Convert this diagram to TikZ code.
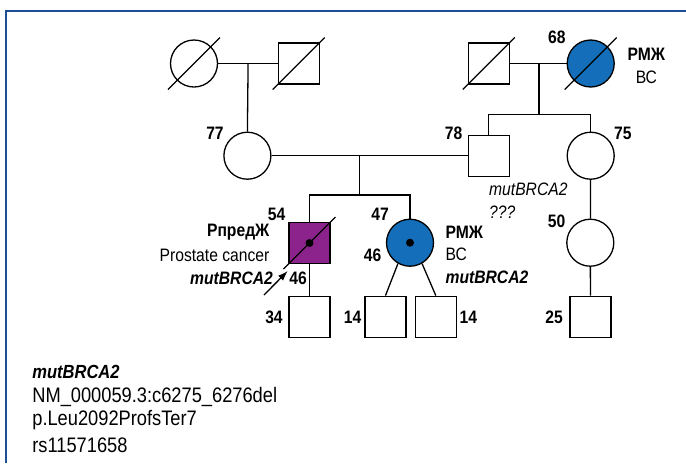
\documentclass[tikz,border=0pt]{standalone}
\usepackage{fontspec}
\setmainfont[FakeStretch=0.87]{Liberation Sans}
\usepackage{xcolor}
\usepackage{tikz}
\usetikzlibrary{shapes.geometric, arrows.meta, positioning, calc}
\definecolor{framecolor}{RGB}{28, 78, 150}
\definecolor{rmjblue}{RGB}{20, 110, 185}
\definecolor{prostpurple}{RGB}{140, 35, 140}
\newcommand{\deceased}[1]{\draw (#1.center) ++(-26,26) -- ++(52,-52);}

\begin{document}
\begin{tikzpicture}[x=0.5pt, y=-0.5pt, line width=0.65pt,
    female/.style={circle, draw, minimum size=23.5pt, inner sep=0pt},
    male/.style={rectangle, draw, minimum size=20.5pt, inner sep=0pt},
    age/.style={font=\fontsize{9}{10}\selectfont\bfseries},
    note/.style={inner sep=0pt, font=\fontsize{9}{10}\selectfont},
    proband/.style={fill=black, circle, inner sep=0pt, minimum size=4pt}]
    \useasboundingbox (0,0) rectangle (686,463);
    % frame
    \draw[framecolor, line width=1.25pt] (6,463) -- (6,11) -- (686,11);

    % generation I
    \node[female] (gmL) at (194,63.5) {};
    \node[male] (gfL) at (298.7,63.5) {};
    \node[male] (gfR) at (488.8,63.5) {};
    \node[female, fill=rmjblue] (gmR) at (590.7,63.5) {};
    \deceased{gmL} \deceased{gfL} \deceased{gfR} \deceased{gmR}
    \node[age] (ageGmR) at (556.8,37) {68};
    \node[note, font=\fontsize{9}{10}\selectfont\bfseries] (dxGmR) at (646.4,54) {РМЖ};
    \node[note] (bcGmR) at (646.4,77) {ВС};
    \draw (gmL) -- (gfL);
    \draw (gfR) -- (gmR);

    % generation II
    \node[female] (mother) at (247.4,155.7) {};
    \node[male] (father) at (488.8,155.7) {};
    \node[female] (aunt) at (590.7,155.7) {};
    \node[age] (ageMother) at (215,133.2) {77};
    \node[age] (ageFather) at (453.6,133.2) {78};
    \node[age] (ageAunt) at (622.8,133.2) {75};
    \node[note, anchor=west, font=\fontsize{9}{10}\selectfont\itshape] (mutFather) at (488.5,189.6) {mutBRCA2};
    \node[note, anchor=west, font=\fontsize{9}{10}\selectfont\itshape] (qFather) at (488.5,212) {???};
    \coordinate (jL) at (248.1,63.5);
    \coordinate (jR) at (539,63.5);
    \coordinate (sibR) at (539,114.5);
    \draw (jL) -- (mother.north);
    \draw (jR) -- (sibR);
    \draw (father.north) |- (sibR) -| (aunt.north);
    \draw (mother) -- (father);

    % generation III
    \node[male, fill=prostpurple] (son) at (309.5,243) {};
    \deceased{son}
    \node[proband] (dotSon) at (son.center) {};
    \node[female, fill=rmjblue] (daughter) at (410,242.7) {};
    \node[proband] (dotDaughter) at (daughter.center) {};
    \node[female] (cousin) at (590.3,242.7) {};
    \coordinate (jM) at (359.5,155.7);
    \coordinate (sibM) at (359.5,195);
    \draw (jM) -- (sibM);
    \draw (son.north) |- (sibM) -| (daughter.north);
    \draw (aunt) -- (cousin);
    \node[age] (ageSon) at (276.7,214) {54};
    \node[age] (dxAgeSon) at (298,278.3) {46};
    \node[age] (ageDaughter) at (380,214) {47};
    \node[age] (dxAgeDaughter) at (372.7,255) {46};
    \node[age] (ageCousin) at (556.7,221.7) {50};
    \node[note, anchor=east, font=\fontsize{9}{10}\selectfont\bfseries] (dxSon) at (270,232.5) {РпредЖ};
    \node[note, anchor=east] (pcSon) at (270,255.5) {Prostate cancer};
    \node[note, anchor=east, font=\fontsize{9}{10}\selectfont\bfseries\itshape] (mutSon) at (273.5,278.3) {mutBRCA2};
    \node[note, anchor=west, font=\fontsize{9}{10}\selectfont\bfseries] (dxDaughter) at (445,232) {РМЖ};
    \node[note, anchor=west] (bcDaughter) at (445,254.5) {ВС};
    \node[note, anchor=west, font=\fontsize{9}{10}\selectfont\bfseries\itshape] (mutDaughter) at (445,277) {mutBRCA2};
    \coordinate (arrowTail) at (264,295);
    \draw[-{Latex[length=5pt, width=3.5pt]}] (arrowTail) -- (287.7,271);

    % generation IV
    \node[male] (grandson) at (309.5,316.7) {};
    \node[male] (twinA) at (385.5,316.7) {};
    \node[male] (twinB) at (435.8,316.7) {};
    \node[male] (cousinSon) at (590.5,316.7) {};
    \draw (son) -- (grandson);
    \draw (daughter.240) -- (twinA.north);
    \draw (daughter.300) -- (twinB.north);
    \draw (cousin) -- (cousinSon);
    \node[age] (ageGrandson) at (274,317.3) {34};
    \node[age] (ageTwinA) at (352.7,317.3) {14};
    \node[age] (ageTwinB) at (468.3,317.3) {14};
    \node[age] (ageCousinSon) at (554,317.3) {25};

    % variant description
    \node[anchor=west, inner sep=0pt, font=\fontsize{9.5}{10}\selectfont\bfseries\itshape] (mutTitle) at (31.7,371.7) {mutBRCA2};
    \node[anchor=west, inner sep=0pt, font=\fontsize{10.5}{12}\selectfont] (hgvsC) at (31.7,396.7) {NM\_000059.3:c6275\_6276del};
    \node[anchor=west, inner sep=0pt, font=\fontsize{10.5}{12}\selectfont] (hgvsP) at (31.7,420.5) {p.Leu2092ProfsTer7};
    \node[anchor=west, inner sep=0pt, font=\fontsize{10.5}{12}\selectfont] (rsId) at (31.7,445) {rs11571658};
\end{tikzpicture}
\end{document}
